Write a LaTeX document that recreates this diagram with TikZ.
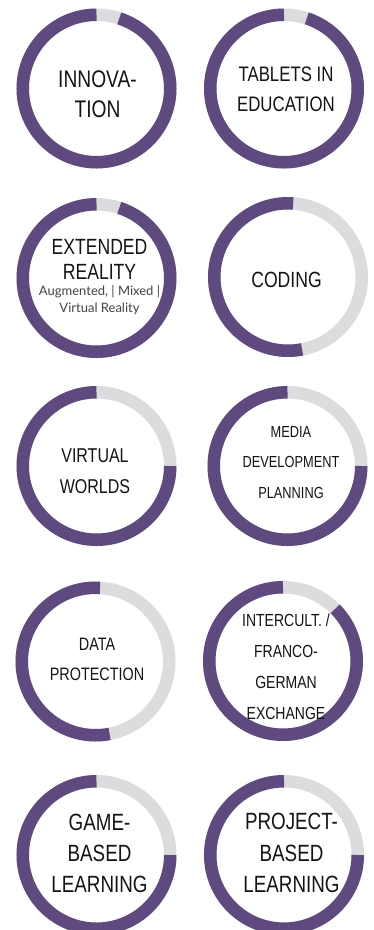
\documentclass[tikz,border=0pt]{standalone}
\usepackage{fontspec}
\newfontfamily\lab[FakeStretch=0.8]{Liberation Sans}
\newfontfamily\sublab{Lato}
\definecolor{ringpurple}{HTML}{5E4A7E}
\definecolor{ringgrey}{HTML}{DCDCDE}
\definecolor{labtext}{HTML}{141414}
\definecolor{subtext}{HTML}{444444}
\tikzset{
  grey ring/.style={draw=ringgrey, line width=12.5pt},
  purple ring/.style={draw=ringpurple, line width=12.5pt},
  label/.style={inner sep=0pt, align=center, text=labtext},
}
\newcommand\myring[3]{%
  \draw[grey ring] (#1) circle[radius=73.75];
  \draw[purple ring] (#1) ++(#2:73.75) arc[start angle=#2, end angle=#3, radius=73.75];
}
\begin{document}
\begin{tikzpicture}[x=1pt,y=1pt]
\useasboundingbox (0,0) rectangle (374,-930);
\clip (0,0) rectangle (374,-930);
\fill[white] (0,0) rectangle (374,-930);
% centers
\coordinate (c1) at (96.5,-88.5);
\coordinate (c2) at (284,-88.5);
\coordinate (c3) at (96.5,-278);
\coordinate (c4) at (288,-277);
\coordinate (c5) at (96.5,-466);
\coordinate (c6) at (287.5,-466);
\coordinate (c7) at (95.5,-661.5);
\coordinate (c8) at (283,-661);
\coordinate (c9) at (96.5,-855);
\coordinate (c10) at (284,-855);
% rings
\myring{c1}{90}{432}
\myring{c2}{90}{432}
\myring{c3}{90}{432}
\myring{c4}{86}{281}
\myring{c5}{90}{360}
\myring{c6}{90}{360}
\myring{c7}{86.5}{281}
\myring{c8}{90}{405}
\myring{c9}{90}{360}
\myring{c10}{90}{360}
% labels
\node[label, font=\lab\fontsize{24}{30}\selectfont] (t1) at (97.5,-94.5) {INNOVA-\\TION};
\node[label, font=\lab\fontsize{21}{30}\selectfont] (t2) at (286,-89.5) {TABLETS IN\\EDUCATION};
\node[label, font=\lab\fontsize{22}{25}\selectfont] (t3) at (99.5,-259) {EXTENDED\\REALITY};
\node[label, text=subtext, font=\sublab\fontsize{13}{17}\selectfont] (t3s) at (99.5,-300.5) {Augmented, | Mixed |\\Virtual Reality};
\node[label, font=\lab\fontsize{22}{25}\selectfont] (t4) at (286.5,-279.5) {CODING};
\node[label, font=\lab\fontsize{20}{31}\selectfont] (t5) at (95,-471.5) {VIRTUAL\\WORLDS};
\node[label, font=\lab\fontsize{16}{30.5}\selectfont] (t6) at (291,-462.5) {MEDIA\\DEVELOPMENT\\PLANNING};
\node[label, font=\lab\fontsize{18}{30}\selectfont] (t7) at (97,-659.5) {DATA\\PROTECTION};
\node[label, font=\lab\fontsize{17.5}{31}\selectfont] (t8) at (286,-666.5) {INTERCULT. /\\FRANCO-\\GERMAN\\EXCHANGE};
\node[label, font=\lab\fontsize{23.5}{31}\selectfont] (t9) at (99.5,-853.5) {GAME-\\BASED\\LEARNING};
\node[label, font=\lab\fontsize{23.5}{31.5}\selectfont] (t10) at (291.5,-853) {PROJECT-\\BASED\\LEARNING};
\end{tikzpicture}
\end{document}
